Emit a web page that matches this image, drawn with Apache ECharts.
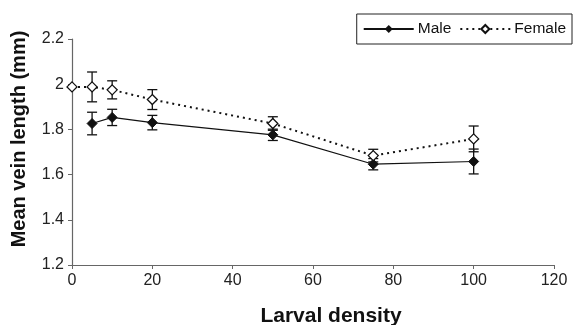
<!DOCTYPE html>
<html><head><meta charset="utf-8">
<script src="https://cdn.jsdelivr.net/npm/echarts@6/dist/echarts.min.js"></script>
<style>html,body{margin:0;padding:0;background:#fff}#c{width:574px;height:325px}</style>
</head><body><div id="c"></div>
<script>
const maleX = [5, 10, 20, 50, 75, 100];
const maleY = [1.826, 1.853, 1.830, 1.776, 1.646, 1.658];
const maleErr = [0.050, 0.036, 0.032, 0.025, 0.025, 0.055];
const femaleX = [0, 5, 10, 20, 50, 75, 100];
const femaleY = [1.988, 1.988, 1.975, 1.932, 1.826, 1.684, 1.758];
const femaleErr = [0, 0.066, 0.040, 0.044, 0.030, 0.028, 0.057];
const xTicks = [0, 20, 40, 60, 80, 100, 120];
const yTicks = [1.2, 1.4, 1.6, 1.8, 2, 2.2];

const font = 'Liberation Sans, Arial, sans-serif';
function errData(xs, ys, es) {
  const out = [];
  xs.forEach((x, i) => { if (es[i] > 0) out.push([x, ys[i] - es[i], ys[i] + es[i]]); });
  return out;
}
function errRender(params, api) {
  const x = api.value(0);
  const lo = api.coord([x, api.value(1)]);
  const hi = api.coord([x, api.value(2)]);
  const w = 5;
  const st = { stroke: '#111', lineWidth: 1.3, fill: null };
  return { type: 'group', children: [
    { type: 'line', shape: { x1: lo[0], y1: lo[1], x2: hi[0], y2: hi[1] }, style: st },
    { type: 'line', shape: { x1: lo[0] - w, y1: lo[1], x2: lo[0] + w, y2: lo[1] }, style: st },
    { type: 'line', shape: { x1: hi[0] - w, y1: hi[1], x2: hi[0] + w, y2: hi[1] }, style: st }
  ]};
}
const chart = echarts.init(document.getElementById('c'), null, { renderer: 'canvas' });
chart.setOption({
  animation: false,
  textStyle: { fontFamily: font },
  grid: { left: 72, right: 20, top: 39, bottom: 60, outerBoundsMode: 'none', containLabel: false },
  legend: {
    data: ['Male', 'Female'],
    right: 2, top: 14, orient: 'horizontal',
    padding: [7, 6, 7, 6],
    borderColor: '#222', borderWidth: 1,
    itemWidth: 50, itemHeight: 10, itemGap: 8,
    textStyle: { fontFamily: font, fontSize: 15.5, color: '#111', padding: [0, 0, 0, -1] }
  },
  xAxis: {
    type: 'value', min: xTicks[0], max: xTicks[xTicks.length - 1], interval: 20,
    name: 'Larval density', nameLocation: 'middle', nameGap: 41,
    nameTextStyle: { fontFamily: font, fontSize: 21, fontWeight: 'bold', color: '#111', padding: [0, 0, 0, 36] },
    axisLine: { lineStyle: { color: '#666', width: 1.2 } },
    axisTick: { inside: false, length: 4, lineStyle: { color: '#666' } },
    axisLabel: { fontFamily: font, fontSize: 16, color: '#222', margin: 8 },
    splitLine: { show: false }
  },
  yAxis: {
    type: 'value', min: yTicks[0], max: yTicks[yTicks.length - 1], interval: 0.2,
    name: 'Mean vein length (mm)', nameLocation: 'middle', nameGap: 43,
    nameTextStyle: { fontFamily: font, fontSize: 20, fontWeight: 'bold', color: '#111', padding: [0, 0, 0, 26] },
    axisLine: { show: true, lineStyle: { color: '#666', width: 1.2 } },
    axisTick: { show: true, inside: false, length: 4, lineStyle: { color: '#666' } },
    axisLabel: { fontFamily: font, fontSize: 16, color: '#222', margin: 8,
      formatter: v => String(Math.round(v * 10) / 10) },
    splitLine: { show: false }
  },
  series: [
    { type: 'custom', name: 'maleErr', renderItem: errRender, data: errData(maleX, maleY, maleErr), z: 1 },
    { type: 'custom', name: 'femaleErr', renderItem: errRender, data: errData(femaleX, femaleY, femaleErr), z: 1 },
    { type: 'line', name: 'Male', data: maleX.map((x, i) => [x, maleY[i]]),
      symbol: 'diamond', symbolSize: 10,
      lineStyle: { color: '#111', width: 1.2 },
      itemStyle: { color: '#111', borderColor: '#111' }, z: 3 },
    { type: 'line', name: 'Female', data: femaleX.map((x, i) => [x, femaleY[i]]),
      symbol: 'diamond', symbolSize: 10,
      lineStyle: { color: '#111', width: 2, type: [2, 4] },
      itemStyle: { color: '#fff', borderColor: '#111', borderWidth: 1.3 }, z: 3 }
  ]
});
</script></body></html>
